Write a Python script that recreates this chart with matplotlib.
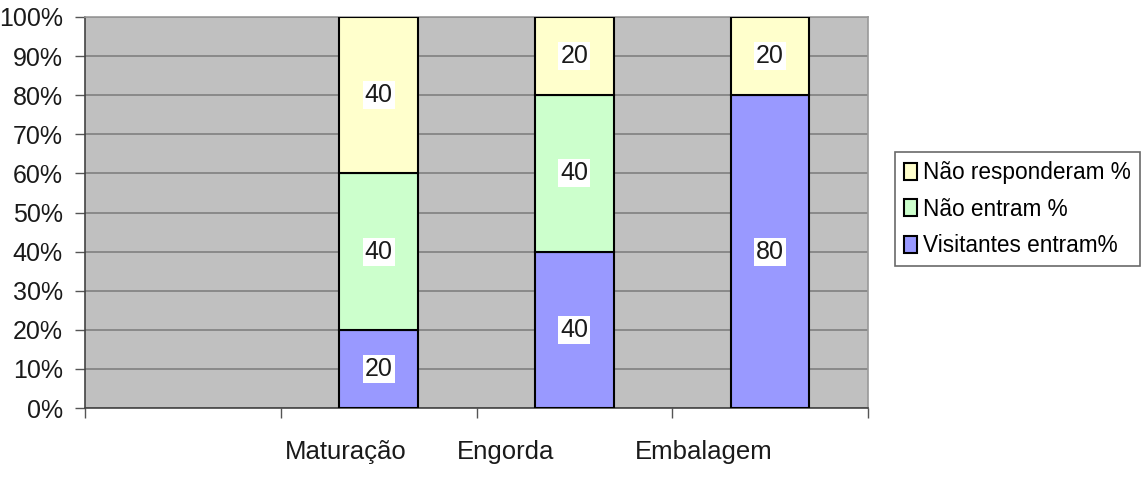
import matplotlib
matplotlib.use("Agg")
import matplotlib.pyplot as plt
import numpy as np

plt.rcParams['font.family'] = ['Liberation Sans', 'DejaVu Sans']

categories = ['', 'Maturação', 'Engorda', 'Embalagem']
visitantes = [0, 20, 40, 80]
nao_entram = [0, 40, 40, 0]
nao_responderam = [0, 40, 20, 20]
yticks = [0, 10, 20, 30, 40, 50, 60, 70, 80, 90, 100]

series = [
    ('Visitantes entram%', visitantes, '#9999FF'),
    ('Não entram %', nao_entram, '#CCFFCC'),
    ('Não responderam %', nao_responderam, '#FFFFCC'),
]

fig = plt.figure(figsize=(11.46, 4.95), dpi=100)
ax = fig.add_axes([85/1146, 87/495, 783/1146, 391/495])
ax.set_facecolor('#C0C0C0')

x = np.arange(len(categories))
bottom = np.zeros(len(categories))
handles = []
for name, vals, col in series:
    vals = np.array(vals, dtype=float)
    mask = vals > 0
    h = ax.bar(x[mask], vals[mask], width=0.4, bottom=bottom[mask], color=col,
               edgecolor='black', linewidth=1.5, zorder=3, label=name)
    handles.append(h)
    for xi, v, b in zip(x[mask], vals[mask], bottom[mask]):
        ax.text(xi, b + v / 2, f'{int(v)}', ha='center', va='center', fontsize=18,
                color='#1a1a1a', zorder=4,
                bbox=dict(facecolor='white', edgecolor='none', pad=1.5))
    bottom = bottom + vals

ax.set_xlim(-0.5, len(categories) - 0.5)
ax.set_ylim(0, 100)
ax.set_yticks(yticks)
ax.set_yticklabels([f'{t}%' for t in yticks], fontsize=18, color='#1a1a1a')
ax.yaxis.grid(True, color='#808080', linewidth=1.2, zorder=0)
ax.set_axisbelow(True)
ax.tick_params(axis='y', length=7, width=1, color='#555555', pad=9)

# category boundaries as minor ticks, labels as major ticks
boundaries = np.arange(len(categories) + 1) - 0.5
ax.set_xticks(boundaries, minor=True)
label_pos = [0, 0.83, 1.65, 2.66]
ax.set_xticks(label_pos)
ax.set_xticklabels(categories, fontsize=18.5, color='#1a1a1a')
ax.tick_params(axis='x', which='major', length=0, pad=23)
ax.tick_params(axis='x', which='minor', length=7, width=1, color='#555555')

for s in ['top', 'right']:
    ax.spines[s].set_color('#999999')
    ax.spines[s].set_linewidth(1.2)
ax.spines['left'].set_color('#444444')
ax.spines['bottom'].set_color('#444444')
ax.spines['left'].set_linewidth(1.2)
ax.spines['bottom'].set_linewidth(1.2)

leg = fig.legend(handles[::-1], [s[0] for s in series][::-1],
                 loc='upper left', bbox_to_anchor=(895/1146, 1 - 152/495),
                 fontsize=16.3, frameon=True, fancybox=False, edgecolor='#444444',
                 handlelength=0.55, handleheight=0.8, handletextpad=0.3,
                 borderpad=0.4, labelspacing=0.6, borderaxespad=0)
leg.get_frame().set_linewidth(1.2)

fig.savefig('out.png', dpi=100)
